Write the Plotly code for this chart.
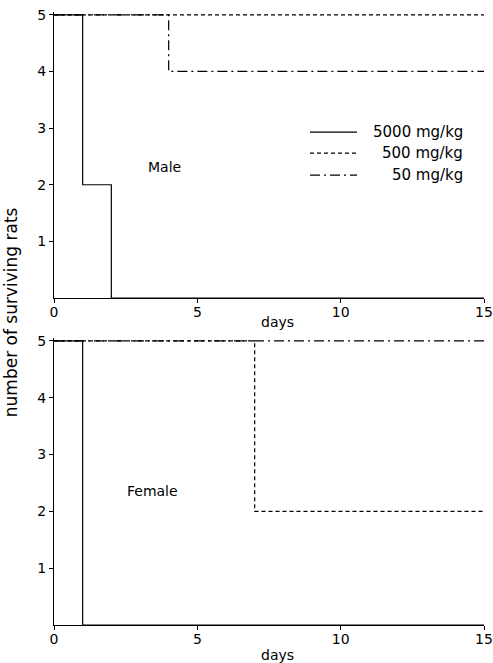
import plotly.graph_objects as go
from plotly.subplots import make_subplots

# Survival data (step functions), days vs number of surviving rats
male_days_5000 = [0, 1, 1, 2, 2, 15]
male_rats_5000 = [5, 5, 2, 2, 0, 0]
male_days_500 = [0, 15]
male_rats_500 = [5, 5]
male_days_50 = [0, 4, 4, 15]
male_rats_50 = [5, 5, 4, 4]

female_days_5000 = [0, 1, 1, 15]
female_rats_5000 = [5, 5, 0, 0]
female_days_500 = [0, 7, 7, 15]
female_rats_500 = [5, 5, 2, 2]
female_days_50 = [0, 15]
female_rats_50 = [5, 5]

doses = ["5000 mg/kg", "500 mg/kg", "50 mg/kg"]
dashes = ["solid", "4px,3px", "10px,4px,2px,4px"]
x_ticks = [0, 5, 10, 15]
y_ticks = [1, 2, 3, 4, 5]

FONT = "DejaVu Sans"

fig = make_subplots(rows=2, cols=1, vertical_spacing=0.065)

male = [(male_days_5000, male_rats_5000), (male_days_500, male_rats_500), (male_days_50, male_rats_50)]
female = [(female_days_5000, female_rats_5000), (female_days_500, female_rats_500), (female_days_50, female_rats_50)]

for row, group in [(1, male), (2, female)]:
    for (xs, ys), name, dash in zip(group, doses, dashes):
        fig.add_trace(go.Scatter(x=xs, y=ys, mode="lines", name=name,
                                 line=dict(color="black", width=1.2, dash=dash),
                                 showlegend=False), row=row, col=1)

axis_common = dict(showline=True, linecolor="black", linewidth=1.2, showgrid=False,
                   zeroline=False, ticks="outside", ticklen=4, tickcolor="black",
                   automargin=False,
                   tickfont=dict(family=FONT, size=14, color="black"))

for r in (1, 2):
    fig.update_xaxes(range=[0, 15], tickvals=x_ticks, ticktext=[str(v) for v in x_ticks],
                     ticklabelstandoff=-3, row=r, col=1, **axis_common)
    fig.update_yaxes(range=[0, 5.05], tickvals=y_ticks, ticktext=[str(v) for v in y_ticks],
                     row=r, col=1, **axis_common)

fig.update_layout(
    width=493, height=663,
    margin=dict(l=54, r=9, t=12, b=38),
    plot_bgcolor="white", paper_bgcolor="white",
    font=dict(family=FONT, color="black"),
    showlegend=False,
    yaxis=dict(domain=[0.5334, 1.0]),
    yaxis2=dict(domain=[0.0, 0.4682]),
)

# "days" axis labels
fig.add_annotation(text="days", x=7.8, y=0.494, xref="x", yref="paper", showarrow=False,
                   xanchor="center", yanchor="middle", font=dict(family=FONT, size=14, color="black"))
fig.add_annotation(text="days", x=7.8, y=-0.049, xref="x2", yref="paper", showarrow=False,
                   xanchor="center", yanchor="middle", font=dict(family=FONT, size=14, color="black"))

# Panel labels
fig.add_annotation(text="Male", x=3.87, y=2.31, xref="x", yref="y", showarrow=False,
                   font=dict(family=FONT, size=14, color="black"))
fig.add_annotation(text="Female", x=3.42, y=2.36, xref="x2", yref="y2", showarrow=False,
                   font=dict(family=FONT, size=14, color="black"))

# Y axis title (shared)
fig.add_annotation(text="number of surviving rats", x=-0.098, y=0.51, xref="paper", yref="paper",
                   textangle=-90, showarrow=False, xanchor="center", yanchor="middle",
                   font=dict(family=FONT, size=17, color="black"))

# Legend drawn in the top panel
legend_y = [2.93, 2.56, 2.17]
for name, dash, ly in zip(doses, dashes, legend_y):
    fig.add_shape(type="line", xref="x", yref="y", x0=8.93, x1=10.57, y0=ly, y1=ly,
                  line=dict(color="black", width=1.2, dash=dash))
    fig.add_annotation(text=name, x=14.34, y=ly, xref="x", yref="y", showarrow=False,
                       xanchor="right", yanchor="middle",
                       font=dict(family=FONT, size=15, color="black"))

fig.write_html(
    "out.html",
    config={"displayModeBar": False, "responsive": False},
    post_script=("document.body.style.margin='0';"
                 "document.body.style.overflow='hidden';"
                 "document.documentElement.style.overflow='hidden';"),
)
